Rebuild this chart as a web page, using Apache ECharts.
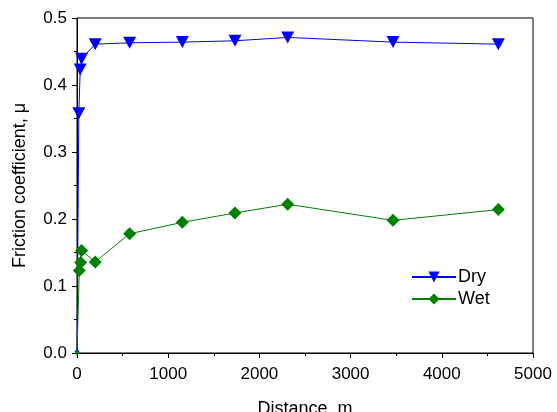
<!DOCTYPE html>
<html>
<head>
<meta charset="utf-8">
<script src="https://cdn.jsdelivr.net/npm/echarts@6/dist/echarts.min.js"></script>
<style>html,body{margin:0;padding:0;background:#fff}#c{width:557px;height:412px}</style>
</head>
<body>
<div id="c"></div>
<script>
var dryDistance = [0, 20, 35, 50, 200, 577, 1155, 1732, 2310, 3465, 4620];
var dryFriction = [0, 0.358, 0.423, 0.439, 0.461, 0.463, 0.464, 0.466, 0.471, 0.464, 0.461];
var wetDistance = [0, 25, 40, 50, 200, 577, 1155, 1732, 2310, 3465, 4620];
var wetFriction = [0, 0.123, 0.135, 0.153, 0.136, 0.178, 0.195, 0.209, 0.222, 0.198, 0.214];
var seriesNames = ['Dry', 'Wet'];

function pairs(xs, ys) { return xs.map(function (x, i) { return [x, ys[i]]; }); }

var chart = echarts.init(document.getElementById('c'));
var font = 'Liberation Sans, Arial, sans-serif';
chart.setOption({
  animation: false,
  backgroundColor: '#fff',
  grid: { left: 77, right: 24, top: 18, bottom: 59, containLabel: false, outerBoundsMode: 'none',
    show: true, borderColor: '#000', borderWidth: 1, backgroundColor: 'transparent' },
  legend: {
    orient: 'vertical', left: 406, top: 263, itemWidth: 44, itemHeight: 14, itemGap: 4,
    textStyle: { fontFamily: font, fontSize: 18, color: '#000', padding: [0, 0, 0, -3] },
    data: seriesNames
  },
  xAxis: {
    type: 'value', min: 0, max: 5000, interval: 1000,
    name: 'Distance, m', nameLocation: 'middle', nameGap: 47,
    nameTextStyle: { fontFamily: font, fontSize: 18, color: '#000' },
    axisLine: { lineStyle: { color: '#000', width: 1 } },
    axisTick: { show: true, inside: false, length: 5, lineStyle: { color: '#000' } },
    minorTick: { show: true, splitNumber: 2, length: 3, lineStyle: { color: '#000' } },
    axisLabel: { fontFamily: font, fontSize: 17, color: '#000', margin: 13, formatter: function (v) { return String(v); } },
    splitLine: { show: false }
  },
  yAxis: {
    type: 'value', min: 0, max: 0.5, interval: 0.1,
    name: 'Friction coefficient, μ', nameLocation: 'middle', nameGap: 48,
    nameTextStyle: { fontFamily: font, fontSize: 18, color: '#000' },
    axisLine: { show: true, lineStyle: { color: '#000', width: 1 } },
    axisTick: { show: true, inside: false, length: 5, lineStyle: { color: '#000' } },
    minorTick: { show: true, splitNumber: 2, length: 3, lineStyle: { color: '#000' } },
    axisLabel: { fontFamily: font, fontSize: 17, color: '#000', margin: 10, formatter: function (v) { return v.toFixed(1); } },
    splitLine: { show: false }
  },
  series: [
    {
      name: seriesNames[0], type: 'line', data: pairs(dryDistance, dryFriction),
      symbol: 'triangle', symbolRotate: 180,
      symbolSize: function (v) { return v[1] === 0 ? [5, 5] : [13, 12]; },
      lineStyle: { color: '#0000ff', width: 1 }, itemStyle: { color: '#0000ff' },
      clip: true
    },
    {
      name: seriesNames[1], type: 'line', data: pairs(wetDistance, wetFriction),
      symbol: 'diamond',
      symbolSize: function (v) { return v[1] === 0 ? [5, 5] : [13, 13]; },
      lineStyle: { color: '#008000', width: 1 }, itemStyle: { color: '#008000' },
      clip: true
    }
  ]
});
</script>
</body>
</html>
